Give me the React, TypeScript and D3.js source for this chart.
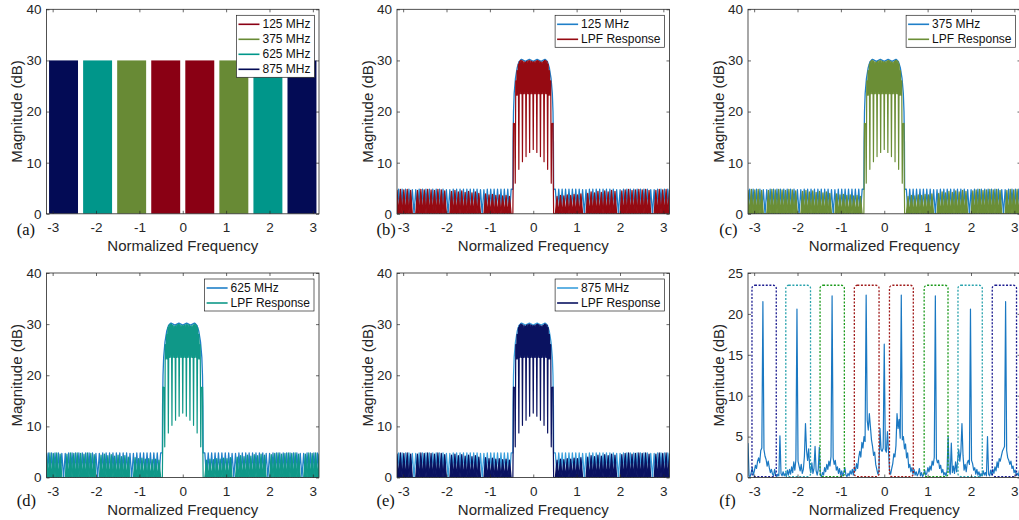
import React, { useEffect, useRef } from 'react';
import * as d3 from 'd3';

const PI = Math.PI;

const xTicks = [-3, -2, -1, 0, 1, 2, 3];
const magTicks = [0, 10, 20, 30, 40];
const fTicks = [0, 5, 10, 15, 20, 25];

// (a) carrier bands
const bandNames = ['125 MHz', '375 MHz', '625 MHz', '875 MHz'];
const bandColors = ['#8a0014', '#688a35', '#00968a', '#030b55'];
const barBands = ['875 MHz', '625 MHz', '375 MHz', '125 MHz', '125 MHz', '375 MHz', '625 MHz', '875 MHz'];
const barDb = [30, 30, 30, 30, 30, 30, 30, 30];

// (b)-(e) tone + LPF response
const toneNames = ['125 MHz', '375 MHz', '625 MHz', '875 MHz'];
const toneColors = ['#1f7fc8', '#1f7fc8', '#1f7fc8', '#3a9fdc'];
const lpfColors = ['#960a12', '#6b8e36', '#0f9888', '#0a1260'];

// stopband from -pi to stopEdge, one value per lobe (mirrored for the right side)
const stopEdge = -0.47;
const stopToneDb = [
  4.8, 4.8, 4.8, 4.8, 4.7, 4.7, 4.8, 4.8, 4.8, 4.8, 4.8, 4.8, 4.8, 4.8, 4.7, 4.7, 4.8,
  4.8, 4.8, 4.8, 4.8, 4.8, 4.8, 4.8, 4.7, 4.7, 4.8, 4.8, 4.8, 4.8, 4.8, 4.8, 4.8, 4.8,
];
// LPF response at the lobe boundaries
const stopLpfDb = [
  4.7, 4.8, 4.7, 4.8, 4.6, 0, 4.6, 4.8, 4.7, 4.8, 4.7, 4.6, 4.8, 4.7, 4.5, 0, 4.4, 4.6,
  4.3, 4.5, 4.2, 4.4, 4.1, 4.3, 4.0, 0, 3.9, 3.7, 3.8, 3.6, 3.7, 3.5, 3.6, 3.4, 0,
];
// passband, left half up to 0 (mirrored)
const passTone: [number, number][] = [
  [-0.47, 4.8], [-0.465, 14.0], [-0.455, 20.0], [-0.44, 23.5], [-0.41, 26.5], [-0.37, 28.6],
  [-0.33, 29.7], [-0.29, 30.1], [-0.27, 30.2], [-0.225, 30.0], [-0.18, 29.8], [-0.135, 30.0],
  [-0.09, 30.2], [-0.045, 30.0], [0, 29.8],
];
const passLpf: [number, number][] = [
  [-0.470, 0.0], [-0.463, 5.8], [-0.456, 17.7], [-0.428, 17.6],
  [-0.415, 6.0], [-0.403, 26.0], [-0.388, 23.2], [-0.373, 28.0], [-0.358, 23.2], [-0.344, 29.3],
  [-0.332, 8.7], [-0.320, 29.8], [-0.305, 23.5], [-0.290, 30.0], [-0.275, 23.5], [-0.261, 30.0],
  [-0.249, 10.2], [-0.237, 29.8], [-0.222, 23.5], [-0.207, 29.7], [-0.192, 23.5], [-0.178, 29.6],
  [-0.166, 11.2], [-0.154, 29.8], [-0.139, 23.5], [-0.124, 29.9], [-0.109, 23.5], [-0.095, 30.0],
  [-0.083, 12.0], [-0.071, 29.9], [-0.056, 23.5], [-0.041, 29.8], [-0.026, 23.5], [-0.012, 29.7],
  [0, 12.6],
];

// (f) received spectrum, 256 bins over [-pi, pi)
const spectrumDb = [
  4.2, 0.2, 0.1, 0.6, 1.2, 0.3, 0.8, 1.5, 1.1, 2.0, 2.4, 1.8, 3.3, 3.6, 21.5, 3.4,
  2.6, 2.2, 1.4, 2.0, 1.2, 0.6, 1.0, 0.4, 0.2, 1.0, 0.3, 0.1, 0.4, 0.2, 5.1, 0.5,
  0.2, 0.7, 0.2, 0.5, 0.1, 0.9, 0.3, 1.0, 0.4, 1.3, 0.6, 1.9, 0.9, 2.2, 20.6, 2.0,
  1.4, 0.8, 1.6, 0.5, 1.0, 2.6, 6.6, 3.3, 2.1, 3.5, 1.2, 0.6, 1.8, 0.5, 1.1, 3.8,
  0.8, 0.3, 1.0, 3.7, 0.3, 0.1, 0.6, 0.3, 1.2, 0.7, 1.6, 1.0, 2.0, 1.4, 2.6, 22.2,
  2.4, 1.6, 2.1, 0.9, 1.3, 0.5, 1.1, 0.3, 0.8, 0.2, 0.6, 1.2, 0.3, 0.1, 0.5, 0.2,
  0.8, 0.4, 1.0, 0.3, 1.3, 0.8, 1.7, 1.1, 2.4, 3.2, 2.5, 4.3, 3.6, 5.0, 4.4, 22.3,
  7.0, 5.8, 7.8, 6.2, 4.6, 3.8, 2.7, 3.1, 1.6, 1.0, 0.4, 0.8, 6.0, 3.4, 3.2, 3.6,
  16.3, 3.4, 3.1, 5.6, 3.2, 0.8, 0.4, 1.1, 1.7, 2.9, 2.5, 3.9, 7.8, 6.0, 7.1, 4.8,
  22.3, 4.6, 5.0, 3.5, 4.1, 2.4, 3.0, 1.2, 1.6, 0.7, 1.2, 0.4, 1.0, 0.3, 0.7, 0.2,
  0.5, 1.1, 0.2, 0.6, 0.1, 0.4, 0.9, 0.3, 0.5, 1.2, 0.7, 1.4, 0.9, 2.0, 1.5, 2.5,
  22.2, 2.3, 1.8, 2.1, 1.1, 1.5, 0.6, 1.0, 0.3, 0.6, 0.2, 0.8, 5.0, 0.9, 0.4, 4.2,
  0.6, 1.4, 0.5, 1.9, 0.7, 2.2, 3.4, 2.0, 3.2, 6.6, 2.7, 0.9, 1.6, 0.7, 1.8, 2.1,
  1.6, 20.6, 2.1, 1.7, 0.9, 1.2, 0.4, 1.0, 0.3, 0.7, 0.1, 0.5, 0.2, 0.8, 0.3, 0.6,
  0.2, 5.0, 0.4, 0.2, 0.9, 0.3, 1.0, 0.5, 1.3, 0.8, 1.9, 1.2, 2.3, 2.0, 2.6, 3.2,
  3.5, 3.8, 21.5, 3.3, 2.4, 2.1, 1.6, 2.0, 1.1, 1.4, 0.6, 0.9, 0.3, 0.5, 0.2, 0.9,
];
const boxBands = barBands;
const boxLo = [-3.05, -2.27, -1.48, -0.69, 0.12, 0.92, 1.70, 2.49];
const boxHi = [-2.49, -1.70, -0.92, -0.12, 0.67, 1.47, 2.26, 3.05];
const boxTopDb = 23.5;
const boxBottomDb = 0.1;
const boxColors: Record<string, string> = {
  '125 MHz': '#a01c1c',
  '375 MHz': '#1c9a1c',
  '625 MHz': '#2aa3ad',
  '875 MHz': '#1c1c90',
};

const FONT = '"Liberation Sans", Arial, Helvetica, sans-serif';
const SERIF = '"Liberation Serif", "Times New Roman", serif';
const AXIS = '#262626';
const colX = [46.5, 397, 748];
const rowY = [9.3, 273];
const PW = 272.5;
const PH = 204.5;
const letterX = [16.7, 376.5, 719.3];
const letterY = [229.5, 500.5];

type Pt = [number, number];

function mirror(half: Pt[]): Pt[] {
  return half.concat(half.slice(0, -1).reverse().map(([f, v]) => [-f, v] as Pt));
}

function makePanel(svg: any, id: string, col: number, row: number, yMax: number, yTicks: number[]) {
  const left = colX[col];
  const top = rowY[row];
  const x = d3.scaleLinear().domain([-PI, PI]).range([left, left + PW]);
  const y = d3.scaleLinear().domain([0, yMax]).range([top + PH, top]);

  svg.append('clipPath').attr('id', `clip-${id}`)
    .append('rect').attr('x', left).attr('y', top).attr('width', PW).attr('height', PH);
  const data = svg.append('g').attr('clip-path', `url(#clip-${id})`);
  const frame = svg.append('g').attr('color', AXIS);

  const styleAxis = (g: any) => {
    g.select('.domain').remove();
    g.selectAll('text').attr('font-size', 13.5).attr('font-family', FONT).attr('fill', AXIS);
    g.selectAll('line').attr('stroke-width', 0.7);
  };
  frame.append('g').attr('transform', `translate(0,${top + PH})`)
    .call(d3.axisBottom(x).tickValues(xTicks).tickSize(-3).tickPadding(9).tickFormat((d: any) => String(d)))
    .call(styleAxis);
  frame.append('g').attr('transform', `translate(0,${top})`)
    .call(d3.axisTop(x).tickValues(xTicks).tickSize(-3).tickFormat(() => ''))
    .call(styleAxis);
  frame.append('g').attr('transform', `translate(${left},0)`)
    .call(d3.axisLeft(y).tickValues(yTicks).tickSize(-3).tickPadding(5).tickFormat((d: any) => String(d)))
    .call(styleAxis);
  frame.append('g').attr('transform', `translate(${left + PW},0)`)
    .call(d3.axisRight(y).tickValues(yTicks).tickSize(-3).tickFormat(() => ''))
    .call(styleAxis);

  frame.append('rect')
    .attr('x', left).attr('y', top).attr('width', PW).attr('height', PH)
    .attr('fill', 'none').attr('stroke', AXIS).attr('stroke-width', 0.8);

  frame.append('text')
    .attr('x', left + PW / 2).attr('y', top + PH + 32).attr('dy', '0.35em')
    .attr('text-anchor', 'middle').attr('font-family', FONT).attr('font-size', 15).attr('fill', AXIS)
    .text('Normalized Frequency');
  frame.append('text')
    .attr('transform', `translate(${left - 29.5},${top + PH / 2}) rotate(-90)`)
    .attr('dy', '0.35em').attr('text-anchor', 'middle')
    .attr('font-family', FONT).attr('font-size', 15).attr('fill', AXIS)
    .text('Magnitude (dB)');
  frame.append('text')
    .attr('x', letterX[col]).attr('y', letterY[row]).attr('dy', '0.35em')
    .attr('font-family', SERIF).attr('font-size', 16.5).attr('fill', '#111')
    .text(`(${id})`);

  return { x, y, data, frame, left, top };
}

function drawLegend(frame: any, items: { label: string; color: string }[], right: number, top: number) {
  const lg = frame.append('g');
  const rowH = 15;
  const box = lg.append('rect');
  const texts: any[] = [];
  items.forEach((it, i) => {
    const cy = 9 + i * rowH;
    lg.append('line').attr('x1', 2).attr('x2', 23).attr('y1', cy).attr('y2', cy)
      .attr('stroke', it.color).attr('stroke-width', 1.6);
    texts.push(lg.append('text').attr('x', 26).attr('y', cy).attr('dy', '0.35em')
      .attr('font-family', FONT).attr('font-size', 12).attr('fill', '#111').text(it.label));
  });
  const tw = d3.max(texts, (t: any) => t.node().getComputedTextLength()) as number;
  const bw = 26 + tw + 4;
  box.attr('width', bw).attr('height', items.length * rowH + 2)
    .attr('fill', '#fff').attr('stroke', AXIS).attr('stroke-width', 0.7);
  lg.attr('transform', `translate(${right - bw},${top})`);
}

function drawChart(node: SVGSVGElement) {
  const svg = d3.select(node);
  svg.selectAll('*').remove();

  // (a)
  {
    const p = makePanel(svg, 'a', 0, 0, 40, magTicks);
    const band = d3.scaleBand<number>().domain(barDb.map((_, i) => i))
      .range([p.x(-PI), p.x(PI)]).paddingInner(0.15).paddingOuter(0.075);
    p.data.selectAll('rect').data(barDb).join('rect')
      .attr('x', (_: number, i: number) => band(i))
      .attr('y', (d: number) => p.y(d))
      .attr('width', band.bandwidth())
      .attr('height', (d: number) => p.y(0) - p.y(d))
      .attr('fill', (_: number, i: number) => bandColors[bandNames.indexOf(barBands[i])]);
    drawLegend(p.frame, bandNames.map((b, i) => ({ label: b, color: bandColors[i] })), p.left + PW - 4.5, p.top + 6);
  }

  // (b)-(e)
  const lobeX = d3.scaleLinear().domain([0, stopToneDb.length]).range([-PI, stopEdge]);
  const toneHalf: Pt[] = [];
  stopToneDb.forEach((v, k) => { toneHalf.push([lobeX(k), 0], [lobeX(k + 0.5), v]); });
  toneHalf.push(...passTone);
  const lpfStop: Pt[] = [];
  stopLpfDb.forEach((v, k) => {
    lpfStop.push([lobeX(k), v]);
    if (k < stopToneDb.length) lpfStop.push([lobeX(k + 0.5), 0]);
  });
  const toneFull = mirror(toneHalf);
  const lpfFull = mirror(lpfStop.concat(passLpf));
  const lpfStopRight = lpfStop.map(([f, v]) => [-f, v] as Pt).reverse();

  const spots = [
    { id: 'b', col: 1, row: 0 },
    { id: 'c', col: 2, row: 0 },
    { id: 'd', col: 0, row: 1 },
    { id: 'e', col: 1, row: 1 },
  ];
  spots.forEach((s, i) => {
    const p = makePanel(svg, s.id, s.col, s.row, 40, magTicks);
    const line = d3.line<Pt>().x((d) => p.x(d[0])).y((d) => p.y(d[1]));
    const area = d3.area<Pt>().x((d) => p.x(d[0])).y0(p.y(0)).y1((d) => p.y(d[1]));
    p.data.append('path').attr('d', line(toneFull)).attr('fill', 'none')
      .attr('stroke', toneColors[i]).attr('stroke-width', 1.3).attr('stroke-linejoin', 'round');
    [lpfStop, lpfStopRight].forEach((seg) => {
      p.data.append('path').attr('d', area(seg)).attr('fill', lpfColors[i]);
    });
    p.data.append('path').attr('d', line(lpfFull)).attr('fill', 'none')
      .attr('stroke', lpfColors[i]).attr('stroke-width', 1.2).attr('stroke-linejoin', 'round');
    drawLegend(p.frame, [
      { label: toneNames[i], color: toneColors[i] },
      { label: 'LPF Response', color: lpfColors[i] },
    ], p.left + PW - 5, p.top + 6);
  });

  // (f)
  {
    const p = makePanel(svg, 'f', 2, 1, 25, fTicks);
    const bin = d3.scaleLinear().domain([0, spectrumDb.length]).range([-PI, PI]);
    const line = d3.line<number>().x((_, i) => p.x(bin(i))).y((d) => p.y(d));
    p.data.append('path').attr('d', line(spectrumDb)).attr('fill', 'none')
      .attr('stroke', '#1a78c2').attr('stroke-width', 1.2).attr('stroke-linejoin', 'round');
    p.data.selectAll('rect.band').data(boxBands).join('rect').attr('class', 'band')
      .attr('x', (_: string, i: number) => p.x(boxLo[i]))
      .attr('y', p.y(boxTopDb))
      .attr('width', (_: string, i: number) => p.x(boxHi[i]) - p.x(boxLo[i]))
      .attr('height', p.y(boxBottomDb) - p.y(boxTopDb))
      .attr('rx', 3)
      .attr('fill', 'none')
      .attr('stroke', (d: string) => boxColors[d])
      .attr('stroke-width', 1.3)
      .attr('stroke-dasharray', '2 1.6');
  }
}

export default function App() {
  const ref = useRef<SVGSVGElement>(null);
  useEffect(() => {
    if (ref.current) drawChart(ref.current);
  }, []);
  return (
    <svg
      ref={ref}
      width={1019}
      height={520}
      style={{ position: 'absolute', left: 0, top: 0, background: '#fff', display: 'block' }}
    />
  );
}
